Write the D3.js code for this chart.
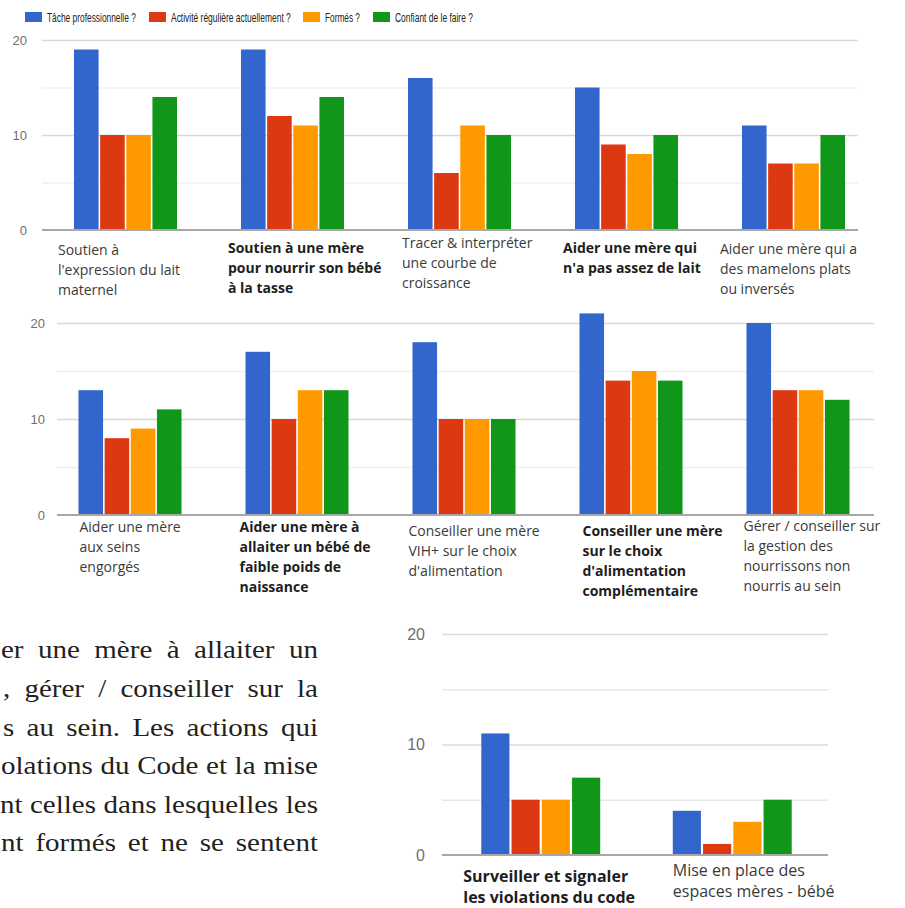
<!DOCTYPE html>
<html>
<head>
<meta charset="utf-8">
<script src="https://cdn.jsdelivr.net/npm/d3@7"></script>
<style>
  body { margin: 0; background: #fff; }
  svg { display: block; }
</style>
</head>
<body>
<svg id="chart" width="905" height="908"></svg>
<script>
// series, in legend order
var series = ["Tâche professionnelle ?", "Activité régulière actuellement ?", "Formés ?", "Confiant de le faire ?"];
var colors = ["#3366cc", "#dc3912", "#ff9900", "#109618"];

// first chart
var cats1 = [
  ["Soutien à", "l'expression du lait", "maternel"],
  ["Soutien à une mère", "pour nourrir son bébé", "à la tasse"],
  ["Tracer & interpréter", "une courbe de", "croissance"],
  ["Aider une mère qui", "n'a pas assez de lait"],
  ["Aider une mère qui a", "des mamelons plats", "ou inversés"]
];
var bold1 = [false, true, false, true, false];
var tache1 = [19, 19, 16, 15, 11];
var activite1 = [10, 12, 6, 9, 7];
var formes1 = [10, 11, 11, 8, 7];
var confiant1 = [14, 14, 10, 10, 10];

// second chart
var cats2 = [
  ["Aider une mère", "aux seins", "engorgés"],
  ["Aider une mère à", "allaiter un bébé de", "faible poids de", "naissance"],
  ["Conseiller une mère", "VIH+ sur le choix", "d'alimentation"],
  ["Conseiller une mère", "sur le choix", "d'alimentation", "complémentaire"],
  ["Gérer / conseiller sur", "la gestion des", "nourrissons non", "nourris au sein"]
];
var bold2 = [false, true, false, true, false];
var tache2 = [13, 17, 18, 21, 20];
var activite2 = [8, 10, 10, 14, 13];
var formes2 = [9, 13, 10, 15, 13];
var confiant2 = [11, 13, 10, 14, 12];

// third chart
var cats3 = [
  ["Surveiller et signaler", "les violations du code"],
  ["Mise en place des", "espaces mères - bébé"]
];
var bold3 = [true, false];
var tache3 = [11, 4];
var activite3 = [5, 1];
var formes3 = [5, 3];
var confiant3 = [7, 5];

var yTicks = [0, 5, 10, 15, 20];
var yLabels = [0, 10, 20];

// cut-off paragraph at the lower left
var textLines = [
  "er une mère à allaiter un",
  ", gérer / conseiller sur la",
  "s au sein. Les actions qui",
  "olations du Code et la mise",
  "nt celles dans lesquelles les",
  "nt formés et ne se sentent"
];

var svg = d3.select("#chart");

// legend (text squeezed horizontally like the original)
var legendX = [25, 149, 303, 373];
var legendW = [89, 120, 35, 78];
var legend = svg.append("g");
series.forEach(function(s, i) {
  legend.append("rect")
    .attr("x", legendX[i]).attr("y", 12)
    .attr("width", 17).attr("height", 10)
    .attr("fill", colors[i]);
  var t = legend.append("text")
    .style("font-family", "Liberation Sans, Arial, sans-serif")
    .style("font-size", "12.5px")
    .attr("fill", "#222")
    .text(s);
  var sx = legendW[i] / t.node().getComputedTextLength();
  t.attr("transform", "translate(" + (legendX[i] + 22) + ",21.5) scale(" + sx + ",1)");
});

function drawPanel(cfg, cats, bold, values) {
  var g = svg.append("g");

  var y = d3.scaleLinear().domain([0, 20]).range([cfg.y0, cfg.y1]);
  var x0 = d3.scaleBand().domain(d3.range(cats.length))
    .range([cfg.bx0, cfg.bx1]).paddingInner(cfg.pad).paddingOuter(cfg.pad / 2);
  var x1 = d3.scaleBand().domain(d3.range(series.length))
    .range([0, x0.bandwidth()]).paddingInner(cfg.barPad);

  // gridlines + tick labels
  var axis = d3.axisLeft(y)
    .tickValues(yTicks)
    .tickSize(-(cfg.gx1 - cfg.gx0))
    .tickPadding(cfg.tickPad)
    .tickFormat(function(d) { return yLabels.indexOf(d) >= 0 ? d : ""; });
  var ax = g.append("g")
    .attr("transform", "translate(" + cfg.gx0 + ",0)")
    .call(axis);
  ax.select(".domain").remove();
  ax.selectAll(".tick line")
    .attr("stroke", function(d) { return d % 10 === 0 ? cfg.major : cfg.minor; })
    .attr("stroke-width", function(d) { return d === 0 ? 0 : 1.5; });
  ax.selectAll(".tick text")
    .attr("fill", "#6f6f6f")
    .style("font-family", "Liberation Sans, Arial, sans-serif")
    .style("font-size", cfg.tickFont + "px");

  // bars
  var groups = g.selectAll(".grp")
    .data(cats.map(function(c, i) {
      return values.map(function(v) { return v[i]; });
    }))
    .enter().append("g")
    .attr("transform", function(d, i) { return "translate(" + x0(i) + ",0)"; });

  groups.selectAll("rect")
    .data(function(d) { return d; })
    .enter().append("rect")
    .attr("x", function(d, j) { return x1(j); })
    .attr("y", function(d) { return y(d); })
    .attr("width", x1.bandwidth())
    .attr("height", function(d) { return y(0) - y(d); })
    .attr("fill", function(d, j) { return colors[j]; });

  // baseline
  g.append("line")
    .attr("x1", cfg.gx0).attr("x2", cfg.gx1)
    .attr("y1", y(0)).attr("y2", y(0))
    .attr("stroke", "#a8a8a8").attr("stroke-width", 2);

  // category labels
  cats.forEach(function(lines, i) {
    var t = g.append("text")
      .style("font-family", "Open Sans, sans-serif")
      .style("font-size", cfg.labelFont + "px")
      .style("font-weight", bold[i] ? "bold" : "normal")
      .attr("fill", bold[i] ? "#1e1e1e" : "#3a3a3a");
    lines.forEach(function(line, k) {
      t.append("tspan")
        .attr("x", x0(i) + cfg.labelDx[i])
        .attr("y", cfg.labelY[i] + k * cfg.lh)
        .text(line);
    });
  });
}

drawPanel({
  y0: 230, y1: 40, gx0: 42, gx1: 858, bx0: 42, bx1: 877,
  pad: 0.383, barPad: 0.06, tickPad: 15, tickFont: 13,
  major: "#d8d8d8", minor: "#f0f0f0",
  labelFont: 14, lh: 20,
  labelDx: [-16, -13, -6, -12, -22],
  labelY: [255, 253, 248, 253, 254]
}, cats1, bold1, [tache1, activite1, formes1, confiant1]);

drawPanel({
  y0: 515, y1: 323, gx0: 57, gx1: 874, bx0: 46.5, bx1: 881.5,
  pad: 0.383, barPad: 0.06, tickPad: 12, tickFont: 13,
  major: "#d8d8d8", minor: "#f0f0f0",
  labelFont: 14, lh: 20,
  labelDx: [1, -6, -4, 3, -3],
  labelY: [532, 532, 536, 536, 531]
}, cats2, bold2, [tache2, activite2, formes2, confiant2]);

drawPanel({
  y0: 855, y1: 634, gx0: 442, gx1: 828, bx0: 445, bx1: 828,
  pad: 0.379, barPad: 0.07, tickPad: 17, tickFont: 16,
  major: "#dcdcdc", minor: "#e8e8e8",
  labelFont: 16, lh: 21,
  labelDx: [-18, 0],
  labelY: [882, 876]
}, cats3, bold3, [tache3, activite3, formes3, confiant3]);

// justified paragraph, words spread between a start x and the right margin
var textStart = [1, 3, 3, 1, 0, 1];
var textRight = 318;
var textBase = [658, 697, 736, 774, 813, 851];
var stretch = 1.16;
textLines.forEach(function(line, k) {
  var words = line.split(" ");
  var nodes = words.map(function(w) {
    return svg.append("text")
      .style("font-family", "Liberation Serif, Times New Roman, serif")
      .style("font-size", "25px")
      .attr("fill", "#231f20")
      .attr("y", textBase[k])
      .text(w);
  });
  var widths = nodes.map(function(n) { return n.node().getComputedTextLength() * stretch; });
  var gap = (textRight - textStart[k] - d3.sum(widths)) / (words.length - 1);
  var x = textStart[k];
  nodes.forEach(function(n, i) {
    n.attr("x", x).attr("textLength", widths[i]).attr("lengthAdjust", "spacingAndGlyphs");
    x += widths[i] + gap;
  });
});
</script>
</body>
</html>
